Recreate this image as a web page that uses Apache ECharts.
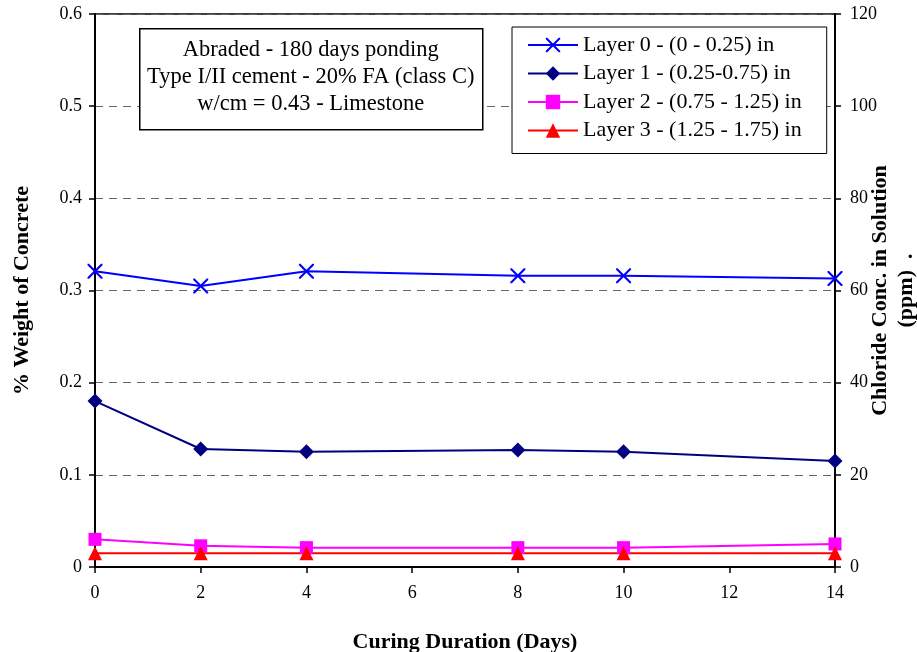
<!DOCTYPE html>
<html>
<head>
<meta charset="utf-8">
<script src="https://cdn.jsdelivr.net/npm/echarts@6/dist/echarts.min.js"></script>
<style>
  html, body { margin: 0; padding: 0; background: #fff; }
  #chart { width: 917px; height: 652px; }
</style>
</head>
<body>
<div id="chart"></div>
<script>
// curing days on x axis
var days = [0, 2, 4, 8, 10, 14];

// % weight of concrete per layer
var layer0 = [0.321, 0.305, 0.321, 0.316, 0.316, 0.313];
var layer1 = [0.180, 0.128, 0.125, 0.127, 0.125, 0.115];
var layer2 = [0.030, 0.023, 0.021, 0.021, 0.021, 0.025];
var layer3 = [0.015, 0.015, 0.015, 0.015, 0.015, 0.015];

var seriesNames = [
    'Layer 0 - (0 - 0.25) in',
    'Layer 1 - (0.25-0.75) in',
    'Layer 2 - (0.75 - 1.25) in',
    'Layer 3 - (1.25 - 1.75) in'
];

var noteLines = [
    'Abraded - 180 days ponding',
    'Type I/II cement - 20% FA (class C)',
    'w/cm = 0.43 - Limestone'
];

var font = 'Liberation Serif, Times New Roman, serif';
var crossPath = 'path://M0,0 L2,0 L10,8 L18,0 L20,0 L20,2 L12,10 L20,18 L20,20 L18,20 L10,12 L2,20 L0,20 L0,18 L8,10 L0,2 Z';

function pairs(vals) {
    return days.map(function(d, i) { return [d, vals[i]]; });
}

function makeSeries(name, vals, color, symbol, size) {
    return {
        name: name,
        type: 'line',
        data: pairs(vals),
        symbol: symbol,
        symbolSize: size,
        showAllSymbol: true,
        lineStyle: { color: color, width: 2 },
        itemStyle: { color: color },
        emphasis: { disabled: true },
        z: 3
    };
}

var myChart = echarts.init(document.getElementById('chart'));

var option = {
    animation: false,
    textStyle: { fontFamily: font },
    grid: {
        left: 95, right: 82, top: 14, bottom: 85,
        outerBoundsMode: 'none',
        containLabel: false,
        show: true, borderColor: '#000', borderWidth: 1.5
    },
    legend: {
        orient: 'vertical',
        left: 512, top: 27,
        itemWidth: 50, itemHeight: 18, itemGap: 6.5,
        padding: [7, 25, 12, 15],
        borderColor: '#000', borderWidth: 1,
        backgroundColor: '#fff',
        textStyle: { fontFamily: font, fontSize: 22, lineHeight: 22, color: '#000' },
        data: seriesNames
    },
    xAxis: {
        type: 'value',
        min: 0, max: 14, interval: 2,
        name: 'Curing Duration (Days)',
        nameLocation: 'middle',
        nameGap: 64,
        nameTextStyle: { fontFamily: font, fontSize: 22, fontWeight: 'bold', color: '#000' },
        axisLine: { lineStyle: { color: '#000', width: 2 } },
        axisTick: { inside: false, length: 6, lineStyle: { color: '#000', width: 1.5 } },
        axisLabel: { fontFamily: font, fontSize: 18, color: '#000', margin: 17 },
        splitLine: { show: false }
    },
    yAxis: [{
        type: 'value',
        min: 0, max: 0.6, interval: 0.1,
        name: '% Weight of Concrete',
        nameLocation: 'middle',
        nameGap: 62,
        nameMoveOverlap: false,
        nameTextStyle: { fontFamily: font, fontSize: 22, fontWeight: 'bold', color: '#000' },
        axisLine: { show: true, lineStyle: { color: '#000', width: 2 } },
        axisTick: { show: true, length: 6, lineStyle: { color: '#000', width: 1.5 } },
        axisLabel: {
            fontFamily: font, fontSize: 18, color: '#000', margin: 13,
            formatter: function(v) { return v === 0 ? '0' : v.toFixed(1); }
        },
        splitLine: { show: true, lineStyle: { color: '#666', type: [8, 6], width: 1 } }
    }, {
        type: 'value',
        position: 'right',
        min: 0, max: 120, interval: 20,
        name: 'Chloride Conc. in Solution\n(ppm)  .',
        nameLocation: 'middle',
        nameRotate: 90,
        nameGap: 32,
        nameMoveOverlap: false,
        nameTextStyle: { fontFamily: font, fontSize: 22, fontWeight: 'bold', color: '#000', lineHeight: 26 },
        axisLine: { show: true, lineStyle: { color: '#000', width: 2 } },
        axisTick: { show: true, length: 6, lineStyle: { color: '#000', width: 1.5 } },
        axisLabel: { fontFamily: font, fontSize: 18, color: '#000', margin: 15 },
        splitLine: { show: false }
    }],
    graphic: [{
        type: 'group',
        left: 139, top: 28,
        z: 100,
        children: [{
            type: 'rect',
            z: 100,
            shape: { x: 0, y: 0, width: 343, height: 101 },
            style: { fill: '#fff', stroke: '#000', lineWidth: 1.5 }
        }, {
            type: 'text',
            z: 101,
            x: 171, y: 7.5,
            style: {
                text: noteLines.join('\n'),
                fontFamily: font, fontSize: 22.5, fill: '#000',
                align: 'center', lineHeight: 27
            }
        }]
    }],
    series: [
        makeSeries(seriesNames[0], layer0, '#0000ff', crossPath, 15),
        makeSeries(seriesNames[1], layer1, '#000080', 'diamond', 15),
        makeSeries(seriesNames[2], layer2, '#ff00ff', 'rect', 13),
        makeSeries(seriesNames[3], layer3, '#ff0000', 'triangle', 14)
    ]
};

myChart.setOption(option);
</script>
</body>
</html>
